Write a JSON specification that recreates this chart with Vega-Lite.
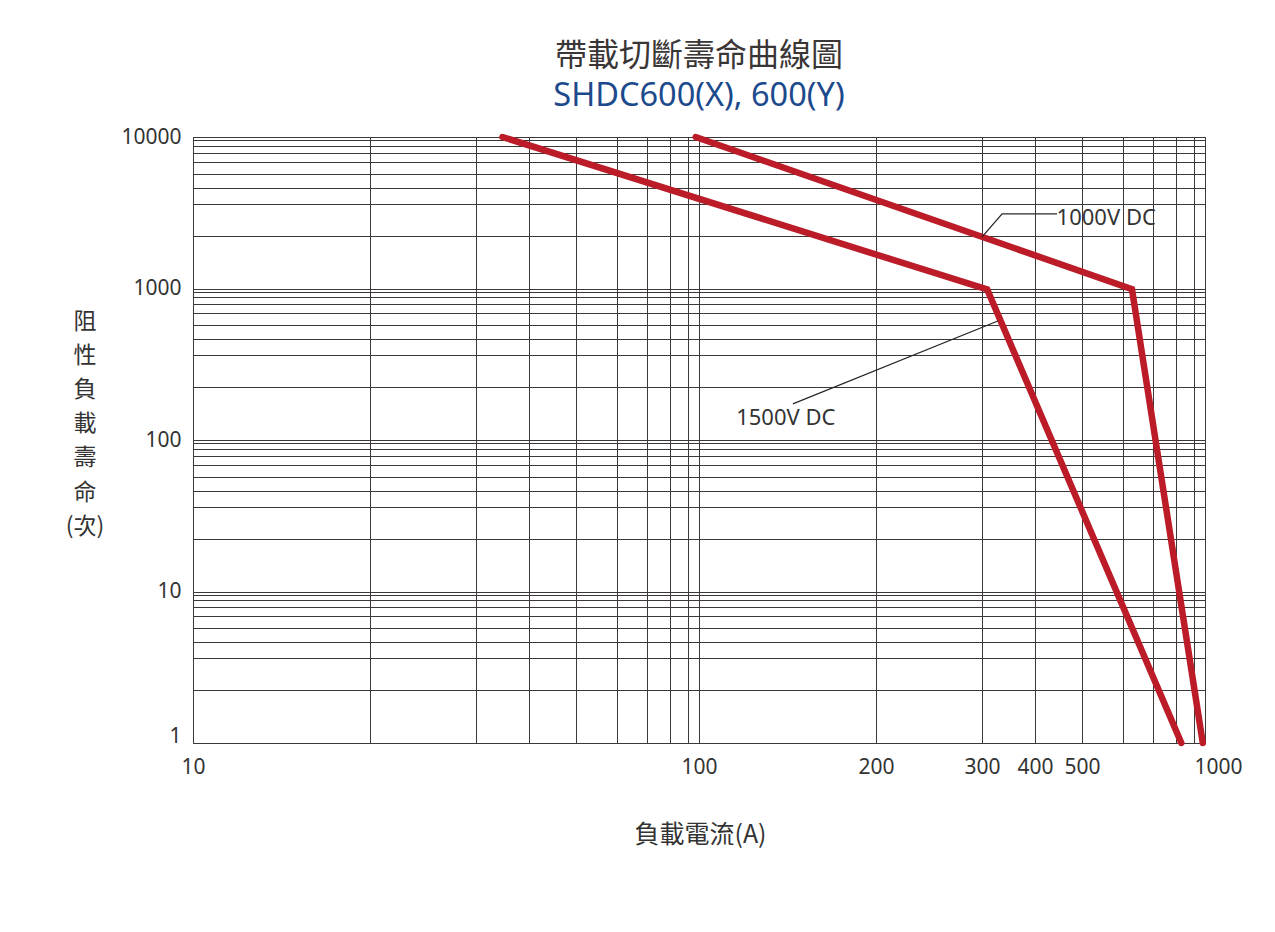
{
  "$schema": "https://vega.github.io/schema/vega-lite/v6.json",
  "width": 1012,
  "height": 606,
  "autosize": {"type": "none"},
  "padding": {"left": 193, "top": 137, "right": 70, "bottom": 189},
  "background": "white",
  "title": {
    "text": "帶載切斷壽命曲線圖",
    "subtitle": "SHDC600(X), 600(Y)",
    "anchor": "middle",
    "frame": "group",
    "font": "Noto Sans CJK TC",
    "fontSize": 32,
    "fontWeight": "normal",
    "color": "#3a3636",
    "subtitleFont": "Noto Sans",
    "subtitleFontSize": 32.5,
    "subtitleFontWeight": "normal",
    "subtitleColor": "#1d4a8c",
    "subtitlePadding": 7,
    "offset": 11
  },
  "datasets": {
    "curves": [
      {"series": "1500V DC", "order": 1, "current": 35, "life": 10000},
      {"series": "1500V DC", "order": 2, "current": 310, "life": 970},
      {"series": "1500V DC", "order": 3, "current": 831, "life": 1},
      {"series": "1000V DC", "order": 1, "current": 97, "life": 10000},
      {"series": "1000V DC", "order": 2, "current": 630, "life": 980},
      {"series": "1000V DC", "order": 3, "current": 980, "life": 1}
    ],
    "leaders": [
      {"id": "1000V DC", "order": 1, "current": 447, "life": 2680},
      {"id": "1000V DC", "order": 2, "current": 338, "life": 2680},
      {"id": "1000V DC", "order": 3, "current": 300, "life": 1970},
      {"id": "1500V DC", "order": 1, "current": 153, "life": 168},
      {"id": "1500V DC", "order": 2, "current": 330, "life": 535}
    ],
    "labels": [
      {"text": "1000V DC", "current": 446, "life": 2540},
      {"text": "1500V DC", "current": 121, "life": 141}
    ]
  },
  "encoding": {
    "x": {
      "field": "current",
      "type": "quantitative",
      "scale": {
        "type": "linear",
        "zero": false,
        "nice": false,
        "domain": [10, 20, 30, 40, 50, 60, 70, 80, 90, 100, 200, 300, 400, 500, 600, 700, 800, 900, 1000],
        "range": [0, 177.1, 282.9, 336, 383, 424, 453.9, 476.7, 494.9, 506, 683.1, 788.9, 842, 889, 930, 959.9, 982.7, 1000.9, 1012]
      },
      "axis": {
        "values": [10, 20, 30, 40, 50, 60, 70, 80, 90, 100, 200, 300, 400, 500, 600, 700, 800, 900, 1000],
        "format": "d",
        "labelExpr": "indexof([10,100,200,300,400,500,1000], datum.value) >= 0 ? datum.label : ''",
        "grid": true,
        "gridColor": "#3d3838",
        "gridWidth": 1,
        "gridOpacity": 1,
        "ticks": false,
        "domain": false,
        "labelFont": "Noto Sans",
        "labelFontSize": 21,
        "labelColor": "#333333",
        "labelPadding": 13,
        "labelFlush": false,
        "labelOverlap": false,
        "labelOffset": {"condition": {"test": "datum.value == 1000", "value": 13}, "value": 0},
        "title": "負載電流(A)",
        "titleFont": "Noto Sans CJK TC",
        "titleFontSize": 25,
        "titleFontWeight": "normal",
        "titleColor": "#333333",
        "titleAlign": "center",
        "titleBaseline": "top",
        "titleX": 507,
        "titleY": 79
      }
    },
    "y": {
      "field": "life",
      "type": "quantitative",
      "scale": {
        "type": "linear",
        "zero": false,
        "nice": false,
        "domain": [1, 2, 3, 4, 5, 6, 7, 8, 9, 10, 20, 30, 40, 50, 60, 70, 80, 90, 100, 200, 300, 400, 500, 600, 700, 800, 900, 1000, 2000, 3000, 4000, 5000, 6000, 7000, 8000, 9000, 10000],
        "range": [606, 553, 521.3, 505.4, 491.3, 479, 470.1, 463.3, 457.8, 454.5, 401.5, 369.8, 353.9, 339.8, 327.5, 318.6, 311.8, 306.3, 303, 250, 218.3, 202.4, 188.3, 176, 167.1, 160.3, 154.8, 151.5, 98.5, 66.8, 50.9, 36.8, 24.5, 15.6, 8.8, 3.3, 0]
      },
      "axis": {
        "values": [1, 2, 3, 4, 5, 6, 7, 8, 9, 10, 20, 30, 40, 50, 60, 70, 80, 90, 100, 200, 300, 400, 500, 600, 700, 800, 900, 1000, 2000, 3000, 4000, 5000, 6000, 7000, 8000, 9000, 10000],
        "format": "d",
        "labelExpr": "indexof([1,10,100,1000,10000], datum.value) >= 0 ? datum.label : ''",
        "grid": true,
        "gridColor": "#3d3838",
        "gridWidth": 1,
        "gridOpacity": 1,
        "ticks": false,
        "domain": false,
        "labelFont": "Noto Sans",
        "labelFontSize": 21,
        "labelColor": "#333333",
        "labelPadding": 12,
        "labelFlush": false,
        "labelOverlap": false,
        "labelOffset": {"condition": {"test": "datum.value == 1", "value": -7}, "value": 0},
        "title": ["阻", "性", "負", "載", "壽", "命", "(次)"],
        "titleFont": "Noto Sans CJK TC",
        "titleFontSize": 23,
        "titleFontWeight": "normal",
        "titleColor": "#333333",
        "titleAngle": 0,
        "titleAlign": "center",
        "titleBaseline": "top",
        "titleLineHeight": 34.2,
        "titleX": -108.5,
        "titleY": 173
      }
    }
  },
  "layer": [
    {
      "data": {"name": "curves"},
      "mark": {"type": "line", "color": "#bc1c28", "strokeWidth": 6.5, "strokeCap": "round", "strokeJoin": "miter"},
      "encoding": {
        "detail": {"field": "series", "type": "nominal"},
        "order": {"field": "order", "type": "quantitative"}
      }
    },
    {
      "data": {"name": "leaders"},
      "mark": {"type": "line", "color": "#2a2626", "strokeWidth": 1.3},
      "encoding": {
        "detail": {"field": "id", "type": "nominal"},
        "order": {"field": "order", "type": "quantitative"}
      }
    },
    {
      "data": {"name": "labels"},
      "mark": {"type": "text", "align": "left", "baseline": "middle", "font": "Noto Sans", "fontSize": 22, "color": "#333333"},
      "encoding": {
        "text": {"field": "text", "type": "nominal"}
      }
    }
  ],
  "config": {
    "view": {"stroke": "#3d3838", "strokeWidth": 1},
    "font": "Noto Sans"
  }
}
